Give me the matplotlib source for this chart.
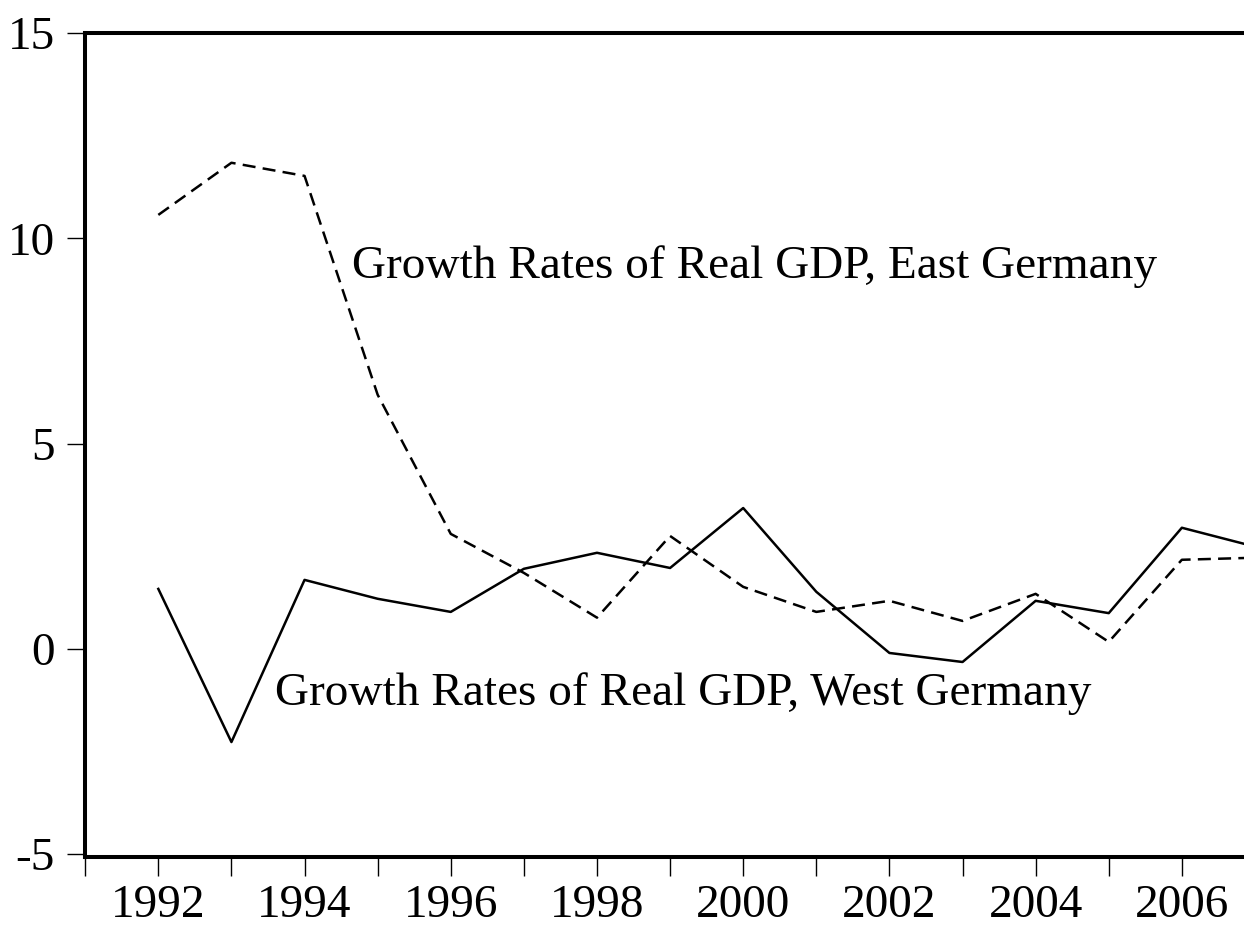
import matplotlib
matplotlib.use("Agg")
import matplotlib.pyplot as plt
from matplotlib.ticker import MultipleLocator

# Growth rates of real GDP (%)
years = [1992, 1993, 1994, 1995, 1996, 1997, 1998, 1999, 2000,
         2001, 2002, 2003, 2004, 2005, 2006, 2007]
east = [10.57, 11.84, 11.52, 6.19, 2.80, 1.85, 0.76, 2.75, 1.51,
        0.90, 1.17, 0.68, 1.34, 0.17, 2.17, 2.22]
west = [1.46, -2.27, 1.68, 1.22, 0.90, 1.95, 2.34, 1.97, 3.43,
        1.39, -0.10, -0.32, 1.17, 0.87, 2.95, 2.49]

east_label = "Growth Rates of Real GDP, East Germany"
west_label = "Growth Rates of Real GDP, West Germany"
y_ticks = [-5, 0, 5, 10, 15]
x_labels = [1992, 1994, 1996, 1998, 2000, 2002, 2004, 2006]

plt.rcParams['font.family'] = ['Liberation Serif', 'DejaVu Serif']

fig = plt.figure(figsize=(12.44, 9.25), dpi=100)
ax = fig.add_axes([0.0685, 0.0735, 0.9315, 0.8908])

ax.plot(years, east, color='black', lw=1.8, linestyle=(0, (5.2, 2.9)))
ax.plot(years, west, color='black', lw=1.8)

ax.set_xlim(1991, 2006.85)
ax.set_ylim(-5.07, 15)

ax.set_yticks(y_ticks)
ax.set_yticklabels([str(v) for v in y_ticks])
ax.set_xticks(x_labels)
ax.set_xticklabels([str(v) for v in x_labels])
ax.xaxis.set_minor_locator(MultipleLocator(1))

ax.tick_params(axis='both', which='both', direction='out', width=1.0,
               labelsize=34, color='black')
ax.tick_params(axis='y', length=13, pad=9)
ax.tick_params(axis='x', which='major', length=14, pad=6)
ax.tick_params(axis='x', which='minor', length=14)

for side in ['left', 'bottom', 'top']:
    ax.spines[side].set_linewidth(2.9)
ax.spines['right'].set_visible(False)

ax.text(1994.65, 9.3, east_label, fontsize=34, va='center', ha='left')
ax.text(1993.6, -1.08, west_label, fontsize=34, va='center', ha='left')

fig.savefig("out.png", dpi=100)
